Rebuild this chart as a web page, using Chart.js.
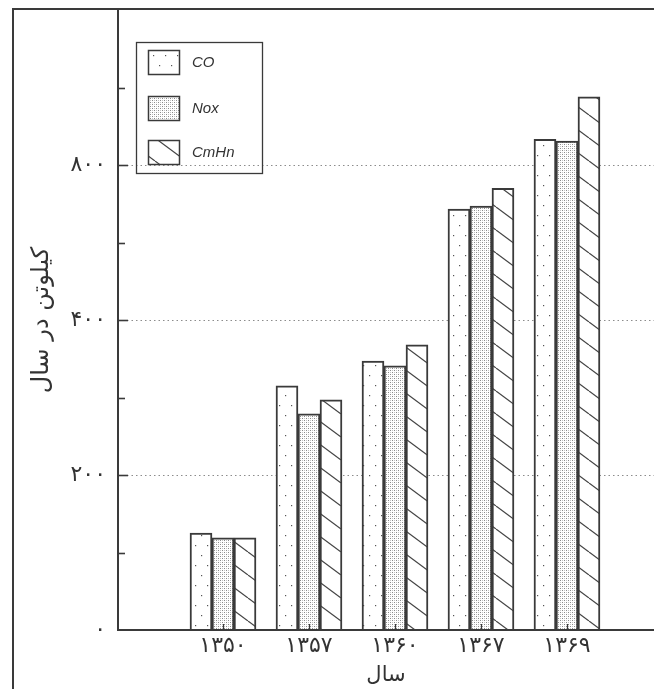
<!DOCTYPE html>
<html>
<head>
<meta charset="utf-8">
<script src="https://cdn.jsdelivr.net/npm/chart.js@4/dist/chart.umd.min.js"></script>
<style>
  html, body { margin: 0; padding: 0; background: #ffffff; }
  #wrap { width: 654px; height: 689px; position: relative; overflow: hidden; }
</style>
</head>
<body>
<div id="wrap"><canvas id="c" width="654" height="689"></canvas></div>
<script>
// Emissions per year (kilotons), by pollutant
const years = ['۱۳۵۰', '۱۳۵۷', '۱۳۶۰', '۱۳۶۷', '۱۳۶۹'];
const seriesNames = ['CO', 'Nox', 'CmHn'];
const coValues = [125, 315, 347, 543, 633];
const noxValues = [119, 279, 341, 547, 631];
const cmhnValues = [119, 297, 368, 570, 688];
const yTickValues = [0, 200, 400, 600];
const yTickLabels = ['۰', '۲۰۰', '۴۰۰', '۸۰۰'];
const yTitle = 'کیلوتن در سال';
const xTitle = 'سال';

const INK = '#3a3a3a';
const TEXT = '#333333';
const FA_FONT = "'DejaVu Sans', sans-serif";

// Fill patterns: sparse dots, dense stipple, diagonal hatch
function makeTile(w, h, draw) {
  const c = document.createElement('canvas');
  c.width = w; c.height = h;
  const g = c.getContext('2d');
  g.fillStyle = '#ffffff';
  g.fillRect(0, 0, w, h);
  draw(g, w, h);
  return g.createPattern(c, 'repeat');
}
const dotPattern = makeTile(12, 20, (g) => {
  g.fillStyle = '#555';
  g.fillRect(3, 5, 1.2, 1.2);
  g.fillRect(9, 15, 1.2, 1.2);
});
const stipplePattern = makeTile(4, 4, (g) => {
  g.fillStyle = '#8a8a8a';
  g.fillRect(0, 0, 1, 1);
  g.fillRect(2, 2, 1, 1);
  g.fillStyle = '#c4c4c4';
  g.fillRect(2, 0, 1, 1);
  g.fillRect(0, 2, 1, 1);
});
const hatchPattern = makeTile(31, 23, (g, w, h) => {
  g.strokeStyle = '#444';
  g.lineWidth = 1.2;
  for (const dx of [-w, 0, w]) {
    g.beginPath();
    g.moveTo(dx, 0);
    g.lineTo(dx + w, h);
    g.stroke();
  }
});
const patterns = [dotPattern, stipplePattern, hatchPattern];
const seriesValues = [coValues, noxValues, cmhnValues];

// Axis lines, inward tick marks, dotted grid, outer frame and boxed legend
const framePlugin = {
  id: 'frame',
  beforeDatasetsDraw(chart) {
    const { ctx, chartArea: a, scales: { y } } = chart;
    ctx.save();
    ctx.strokeStyle = '#8c8c8c';
    ctx.lineWidth = 1;
    ctx.setLineDash([1.5, 3]);
    yTickValues.filter(v => v > 0).forEach(v => {
      const py = Math.round(y.getPixelForValue(v)) + 0.5;
      ctx.beginPath();
      ctx.moveTo(a.left, py);
      ctx.lineTo(a.right, py);
      ctx.stroke();
    });
    ctx.restore();
  },
  afterDatasetsDraw(chart) {
    const { ctx, chartArea: a, scales: { x, y } } = chart;
    ctx.save();
    ctx.strokeStyle = INK;
    ctx.lineWidth = 2;
    // outer frame
    ctx.beginPath();
    ctx.moveTo(13, chart.height);
    ctx.lineTo(13, 9);
    ctx.lineTo(chart.width, 9);
    ctx.stroke();
    // axes
    ctx.beginPath();
    ctx.moveTo(a.left, 9);
    ctx.lineTo(a.left, a.bottom);
    ctx.lineTo(a.right, a.bottom);
    ctx.stroke();
    // y ticks (major and minor), pointing inward
    ctx.lineWidth = 1.6;
    for (let v = 100; v < 800; v += 100) {
      const py = Math.round(y.getPixelForValue(v)) + 0.5;
      const len = yTickValues.includes(v) ? 10 : 7;
      ctx.beginPath();
      ctx.moveTo(a.left, py);
      ctx.lineTo(a.left + len, py);
      ctx.stroke();
    }
    // x ticks at category centres
    ctx.lineWidth = 1.2;
    years.forEach((_, i) => {
      const px = Math.round(x.getPixelForValue(i)) + 0.5;
      ctx.beginPath();
      ctx.moveTo(px, a.bottom);
      ctx.lineTo(px, a.bottom - 6);
      ctx.stroke();
    });
    ctx.restore();
  },
  afterDraw(chart) {
    const { ctx } = chart;
    ctx.save();
    ctx.strokeStyle = INK;
    ctx.lineWidth = 1.3;
    ctx.strokeRect(136.5, 42.5, 126, 131);
    const rows = [50, 96, 140];
    chart.data.datasets.forEach((ds, i) => {
      ctx.fillStyle = ds.backgroundColor;
      ctx.fillRect(148, rows[i], 32, 25);
      ctx.lineWidth = 1.5;
      ctx.strokeRect(148.5, rows[i] + 0.5, 31, 24);
      ctx.fillStyle = TEXT;
      ctx.font = "italic 15px 'Liberation Sans', Arial, sans-serif";
      ctx.textBaseline = 'middle';
      ctx.textAlign = 'left';
      ctx.fillText(ds.label, 192, rows[i] + 13);
    });
    ctx.restore();
  }
};

new Chart(document.getElementById('c'), {
  type: 'bar',
  data: {
    datasets: seriesNames.map((name, k) => ({
      label: name,
      data: seriesValues[k].map((v, i) => ({ x: i, y: v })),
      backgroundColor: patterns[k],
      borderColor: INK,
      borderWidth: 2,
      borderSkipped: 'bottom',
      barThickness: 22
    }))
  },
  options: {
    responsive: false,
    animation: false,
    devicePixelRatio: 1,
    layout: { padding: { left: 0, right: 0, top: 10, bottom: 0 } },
    plugins: { legend: { display: false }, tooltip: { enabled: false } },
    scales: {
      x: {
        type: 'linear',
        min: -1.221,
        max: 5.012,
        offset: false,
        grid: { display: false, drawTicks: false },
        border: { display: false },
        afterBuildTicks(s) { s.ticks = years.map((_, i) => ({ value: i })); },
        afterFit(s) { s.height = 59; s.paddingLeft = 0; s.paddingRight = 0; },
        ticks: {
          autoSkip: false,
          maxRotation: 0,
          padding: 3,
          color: TEXT,
          font: { family: FA_FONT, size: 22 },
          callback: (v) => years[v] ?? ''
        },
        title: {
          display: true,
          text: xTitle,
          color: TEXT,
          font: { family: FA_FONT, size: 21 },
          padding: { top: 0, bottom: 1 }
        }
      },
      y: {
        min: 0,
        max: 800,
        grid: { display: false, drawTicks: false },
        border: { display: false },
        afterFit(s) { s.width = 118; s.paddingTop = 0; s.paddingBottom = 0; },
        ticks: {
          stepSize: 100,
          autoSkip: false,
          padding: 12,
          color: TEXT,
          font: { family: FA_FONT, size: 22 },
          callback: (v) => {
            const i = yTickValues.indexOf(v);
            return i >= 0 ? yTickLabels[i] : null;
          }
        },
        title: {
          display: true,
          text: yTitle,
          color: TEXT,
          font: { family: FA_FONT, size: 24 },
          padding: { top: 27, bottom: 0 }
        }
      }
    }
  },
  plugins: [framePlugin]
});
</script>
</body>
</html>
